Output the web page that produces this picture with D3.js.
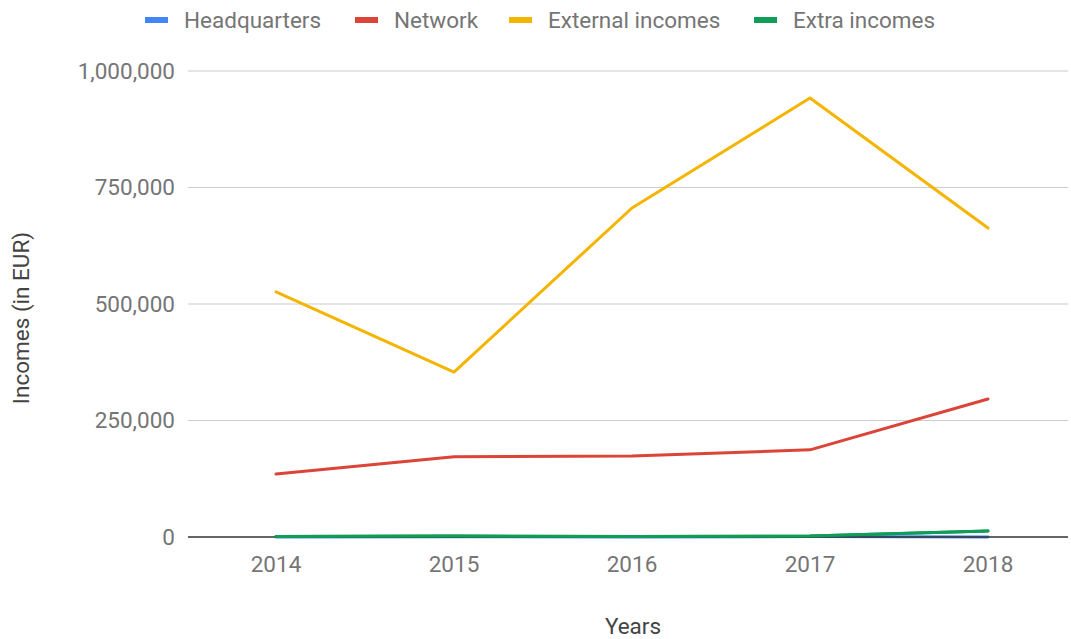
<!DOCTYPE html>
<html><head><meta charset="utf-8">
<script src="https://cdn.jsdelivr.net/npm/d3@7"></script>
<style>body{margin:0;background:#fff}svg{display:block;font-family:Roboto,"Noto Sans",sans-serif}</style>
</head><body>
<svg id="c" width="1071" height="639"></svg>
<script>
const years = ["2014","2015","2016","2017","2018"];
const headquarters = [0, 500, 0, 1000, 0];
const network = [135000, 172000, 174000, 187000, 296000];
const externalIncomes = [526000, 354000, 706000, 942000, 663000];
const extraIncomes = [1000, 2000, 1000, 2000, 13000];
const yTicks = [0, 250000, 500000, 750000, 1000000];
const seriesNames = ["Headquarters","Network","External incomes","Extra incomes"];
const seriesColors = ["#4285f4","#db4437","#f4b400","#0f9d58"];
const seriesData = [headquarters, network, externalIncomes, extraIncomes];

(function(){
const svg = d3.select("#c");
const pLeft = 188, pRight = 1068, pTop = 71, pBottom = 537;
const FS = 22.5;
const x = d3.scalePoint().domain(years).range([276, 988]);
const y = d3.scaleLinear().domain([0, 1000000]).range([pBottom, pTop]);
const fmt = d3.format(",");

svg.append("g").selectAll("line").data(yTicks.filter(d=>d!==0)).join("line")
  .attr("x1", pLeft).attr("x2", pRight)
  .attr("y1", d=>y(d)).attr("y2", d=>y(d))
  .attr("stroke", "#cccccc").attr("stroke-width", 1.2);

svg.append("g").selectAll("text").data(yTicks).join("text")
  .attr("x", 175).attr("y", d=>y(d)).attr("dy", "0.35em")
  .attr("text-anchor", "end").attr("fill", "#757575").attr("font-size", FS)
  .text(d=>fmt(d));

svg.append("g").selectAll("text").data(years).join("text")
  .attr("x", d=>x(d)).attr("y", 572)
  .attr("text-anchor", "middle").attr("fill", "#757575").attr("font-size", FS)
  .text(d=>d);

const line = d3.line().x((d,i)=>x(years[i])).y(d=>y(d));
seriesData.forEach((s, k) => {
  svg.append("path").datum(s).attr("d", line)
    .attr("fill", "none").attr("stroke", seriesColors[k]).attr("stroke-width", 3)
    .attr("stroke-linejoin", "round").attr("stroke-linecap", "round");
});

svg.append("line").attr("x1", pLeft).attr("x2", pRight)
  .attr("y1", y(0)).attr("y2", y(0)).attr("stroke", "#333333").attr("stroke-width", 1.5);
svg.append("path").datum(extraIncomes).attr("d", line)
  .attr("fill", "none").attr("stroke", seriesColors[3]).attr("stroke-width", 3)
  .attr("stroke-linecap", "round");

svg.append("text").attr("x", 633).attr("y", 634).attr("text-anchor", "middle")
  .attr("fill", "#444").attr("font-size", FS).text("Years");
svg.append("text").attr("transform", "translate(29,318) rotate(-90)")
  .attr("text-anchor", "middle").attr("fill", "#444").attr("font-size", FS)
  .text("Incomes (in EUR)");

const legX = [145, 355, 509, 754];
const leg = svg.append("g");
seriesNames.forEach((n, k) => {
  leg.append("rect").attr("x", legX[k]).attr("y", 17).attr("width", 23).attr("height", 6)
    .attr("fill", seriesColors[k]);
  leg.append("text").attr("x", legX[k] + 39).attr("y", 20).attr("dy", "0.35em")
    .attr("fill", "#757575").attr("font-size", FS).text(n);
});
})();
</script>
</body></html>
